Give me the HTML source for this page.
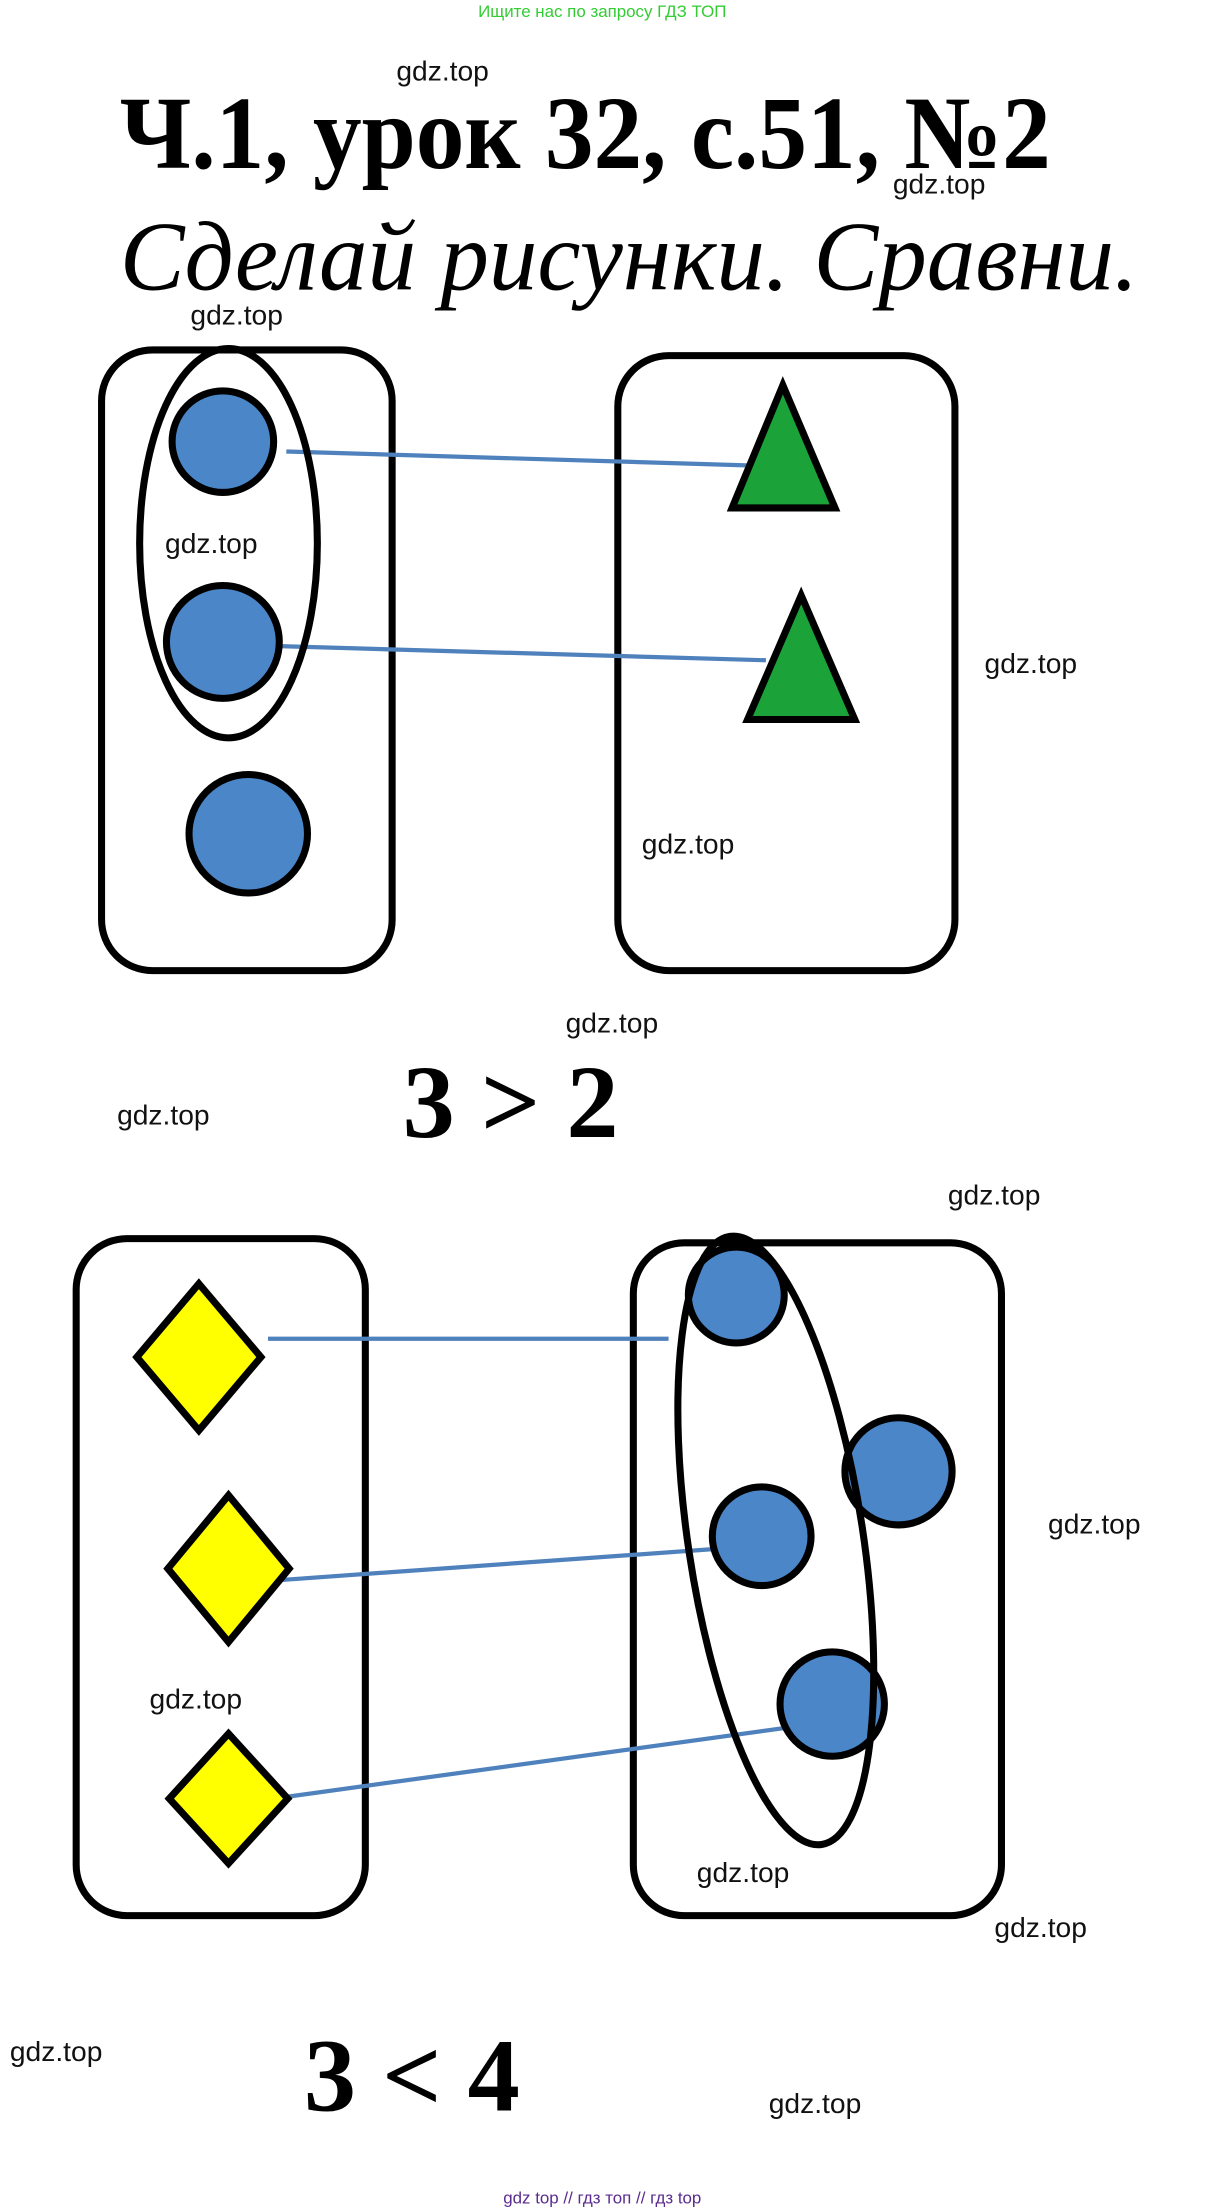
<!DOCTYPE html>
<html><head><meta charset="utf-8"><style>
html,body{margin:0;padding:0;background:#fff;}
svg{display:block;}
.w{font-family:"Liberation Sans",sans-serif;font-size:20px;fill:#111;}
.s{font-family:"Liberation Serif",serif;}
</style></head><body>
<svg width="1206" height="2212" viewBox="0 0 855 1568" xmlns="http://www.w3.org/2000/svg">
<rect width="855" height="1568" fill="#fff"/>
<text x="427" y="12" text-anchor="middle" font-family="Liberation Sans, sans-serif" font-size="12" fill="#33cc33">Ищите нас по запросу ГДЗ ТОП</text>
<text class="s" x="415" y="119" text-anchor="middle" font-size="74" font-weight="bold" textLength="660" lengthAdjust="spacingAndGlyphs">Ч.1, урок 32, с.51, №2</text>
<text class="s" x="446" y="205" text-anchor="middle" font-size="70" font-style="italic" textLength="722" lengthAdjust="spacingAndGlyphs">Сделай рисунки. Сравни.</text>

<g fill="none" stroke="#000" stroke-width="5">
<rect x="72" y="248" width="206" height="440" rx="36"/>
<rect x="438" y="252" width="239" height="436" rx="36"/>
<rect x="54" y="878" width="205" height="480" rx="36"/>
<rect x="449" y="881" width="261" height="477" rx="36"/>
</g>
<g stroke="#4f81bd" stroke-width="3">
<line x1="203" y1="320" x2="535" y2="330"/>
<line x1="198" y1="458" x2="543" y2="468"/>
<line x1="190" y1="949" x2="474" y2="949"/>
<line x1="200" y1="1120" x2="508" y2="1098"/>
<line x1="187" y1="1276" x2="556" y2="1225"/>
</g>
<g fill="#4a86c8" stroke="#000" stroke-width="5">
<circle cx="158" cy="313" r="36"/>
<circle cx="158" cy="455" r="40"/>
<circle cx="176" cy="591" r="42"/>
<circle cx="522" cy="918" r="34"/>
<circle cx="637" cy="1043" r="38"/>
<circle cx="540" cy="1089" r="35"/>
<circle cx="590" cy="1208" r="37"/>
</g>
<g fill="none" stroke="#000" stroke-width="5">
<ellipse cx="162" cy="385" rx="63" ry="138"/>
<ellipse cx="550" cy="1092" rx="62" ry="218" transform="rotate(-8.6 550 1092)"/>
</g>
<g fill="#1ba33a" stroke="#000" stroke-width="5" stroke-linejoin="miter">
<polygon points="555,273 519,360 592,360"/>
<polygon points="568,422 530,510 606,510"/>
</g>
<g fill="#ffff00" stroke="#000" stroke-width="5">
<polygon points="141,910 185,962 141,1014 97,962"/>
<polygon points="162,1060 205,1112 162,1164 119,1112"/>
<polygon points="162,1229 204,1275 162,1321 120,1275"/>
</g>
<text class="s" x="362" y="806" text-anchor="middle" font-size="74" font-weight="bold">3 &gt; 2</text>
<text class="s" x="292" y="1496" text-anchor="middle" font-size="74" font-weight="bold">3 &lt; 4</text>

<g class="w">
<text x="281" y="57">gdz.top</text>
<text x="633" y="137">gdz.top</text>
<text x="135" y="230">gdz.top</text>
<text x="117" y="392">gdz.top</text>
<text x="698" y="477">gdz.top</text>
<text x="455" y="605">gdz.top</text>
<text x="401" y="732">gdz.top</text>
<text x="83" y="797">gdz.top</text>
<text x="672" y="854">gdz.top</text>
<text x="743" y="1087">gdz.top</text>
<text x="106" y="1211">gdz.top</text>
<text x="494" y="1334">gdz.top</text>
<text x="705" y="1373">gdz.top</text>
<text x="7" y="1461">gdz.top</text>
<text x="545" y="1498">gdz.top</text>
</g>
<text x="427" y="1562" text-anchor="middle" font-family="Liberation Sans, sans-serif" font-size="12" fill="#5b2c8e">gdz top  //  гдз топ  //  гдз top</text>
</svg>
</body></html>
